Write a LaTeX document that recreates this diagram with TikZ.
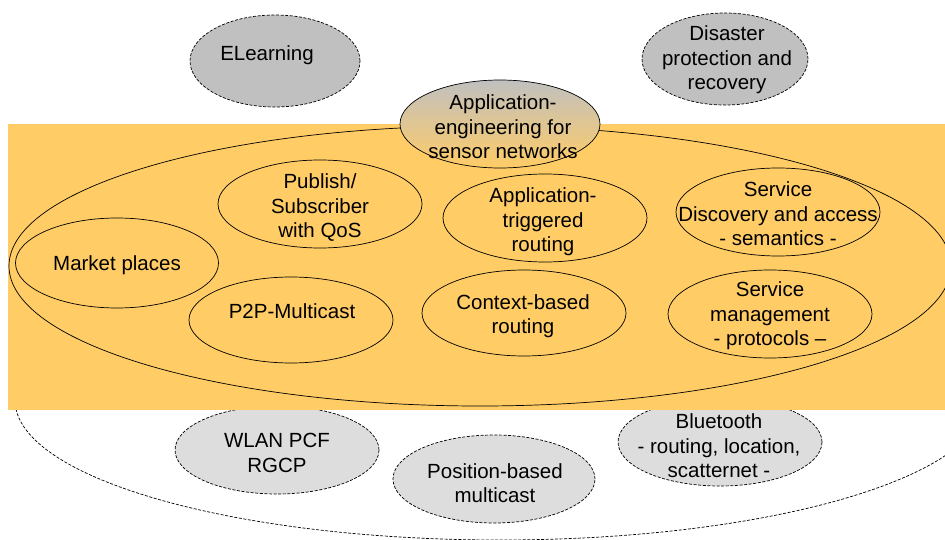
\documentclass[tikz,border=0pt]{standalone}
\usepackage{fontspec}
\setmainfont{Liberation Sans}
\usetikzlibrary{shapes.geometric}
\definecolor{orng}{RGB}{255,204,102}
\definecolor{dgray}{RGB}{192,192,192}
\definecolor{lgray}{RGB}{221,221,221}
\begin{document}
\begin{tikzpicture}[x=1pt,y=-1pt,
  ell/.style={ellipse, draw, line width=0.7pt, inner sep=0pt, minimum width=204pt, minimum height=88pt},
  dell/.style={ell, dash pattern=on 3pt off 1.6pt},
  lbl/.style={align=center, inner sep=0pt, yshift=-2pt, font=\fontsize{20.5}{24.5}\selectfont}]
\clip (0,0) rectangle (945,540);
\fill[white] (0,0) rectangle (945,540);
% top gray ellipses
\node[dell, fill=dgray, minimum width=170pt, minimum height=92pt] (elearn) at (275,61) {};
\node[dell, fill=dgray, minimum width=166pt, minimum height=92pt] (disaster) at (725,59) {};
% outer dashed ellipse and lower ellipses
\node[dell, minimum width=970pt, minimum height=280pt] (outer) at (500,400) {};
\node[dell, fill=lgray] (wlan) at (277,450) {};
\node[dell, fill=lgray, minimum width=202pt] (position) at (494,479) {};
\node[dell, fill=lgray] (bluetooth) at (720,442) {};
% orange band
\node[rectangle, fill=orng, inner sep=0pt, minimum width=937pt, minimum height=286pt, anchor=north west] (band) at (8,124) {};
% big solid ellipse
\node[ell, minimum width=942pt, minimum height=280pt] (big) at (480,266) {};
% application engineering ellipse
\node[ell, top color=dgray, bottom color=orng, minimum width=200pt, minimum height=88pt] (appeng) at (500,124) {};
% inner ellipses
\node[ell, minimum width=203pt, minimum height=90pt] (market) at (117,263) {};
\node[ell] (publish) at (320,204) {};
\node[ell, minimum height=86pt] (p2p) at (291,320) {};
\node[ell] (apptrig) at (545,218) {};
\node[ell, minimum height=86pt] (context) at (524,313) {};
\node[ell] (sdisc) at (778,212) {};
\node[ell] (smgmt) at (770,314) {};
% labels
\node[lbl] (telearn) at (267,53) {ELearning};
\node[lbl] (tdisaster) at (727,58) {Disaster\\protection and\\recovery};
\node[lbl] (tappeng) at (503,125) {Application-\\engineering for\\sensor networks};
\node[lbl] (tmarket) at (117,263) {Market places};
\node[lbl] (tpublish) at (320,206) {Publish/\\Subscriber\\with QoS};
\node[lbl] (tp2p) at (292,309) {P2P-Multicast};
\node[lbl] (tapptrig) at (543,220) {Application-\\triggered\\routing};
\node[lbl] (tcontext) at (523,314) {Context-based\\routing};
\node[lbl] (tsdisc) at (778,212) {Service\\Discovery and access\\- semantics -};
\node[lbl] (tsmgmt) at (770,314) {Service\\management\\- protocols --};
\node[lbl] (twlan) at (277,451) {WLAN PCF\\RGCP};
\node[lbl] (tposition) at (495,481) {Position-based\\multicast};
\node[lbl] (tbluetooth) at (719,444) {Bluetooth\\- routing, location,\\scatternet -};
\end{tikzpicture}
\end{document}
